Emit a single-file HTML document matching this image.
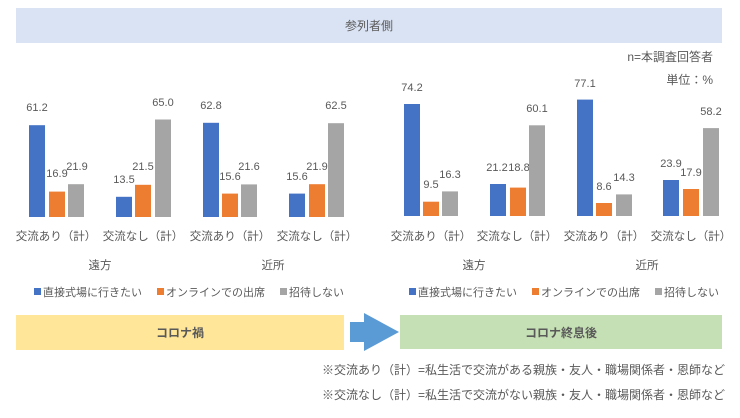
<!DOCTYPE html>
<html><head><meta charset="utf-8"><style>
body{margin:0;background:#fff;}
svg text{font-family:"Liberation Sans","Noto Sans CJK JP",sans-serif;fill:#595959;}
</style></head><body>
<svg width="740" height="413" viewBox="0 0 740 413" xmlns="http://www.w3.org/2000/svg">
<rect x="16" y="8" width="706" height="35" fill="#dae3f3"/>
<text x="369" y="30" font-size="12" text-anchor="middle">参列者側</text>
<text x="713" y="61" font-size="12" text-anchor="end">n=本調査回答者</text>
<text x="713" y="84" font-size="12" text-anchor="end">単位：%</text>
<g font-size="11" text-anchor="middle">
<rect x="29" y="125.2" width="16" height="91.8" fill="#4472c4"/><text x="37" y="111">61.2</text>
<rect x="49" y="191.6" width="16" height="25.4" fill="#ed7d31"/><text x="57" y="177">16.9</text>
<rect x="68" y="184.2" width="16" height="32.8" fill="#a5a5a5"/><text x="77" y="170">21.9</text>
<rect x="116" y="196.8" width="16" height="20.2" fill="#4472c4"/><text x="124" y="183">13.5</text>
<rect x="135" y="184.8" width="16" height="32.2" fill="#ed7d31"/><text x="143" y="170">21.5</text>
<rect x="155" y="119.5" width="16" height="97.5" fill="#a5a5a5"/><text x="163" y="106">65.0</text>
<rect x="203" y="122.8" width="16" height="94.2" fill="#4472c4"/><text x="211" y="109">62.8</text>
<rect x="222" y="193.6" width="16" height="23.4" fill="#ed7d31"/><text x="230" y="180">15.6</text>
<rect x="241" y="184.4" width="16" height="32.6" fill="#a5a5a5"/><text x="249" y="170">21.6</text>
<rect x="289" y="193.6" width="16" height="23.4" fill="#4472c4"/><text x="297" y="180">15.6</text>
<rect x="309" y="184.2" width="16" height="32.8" fill="#ed7d31"/><text x="317" y="170">21.9</text>
<rect x="328" y="123.2" width="16" height="93.8" fill="#a5a5a5"/><text x="336" y="109">62.5</text>
<rect x="404" y="104" width="16" height="112" fill="#4472c4"/><text x="412" y="91">74.2</text>
<rect x="423" y="201.7" width="16" height="14.3" fill="#ed7d31"/><text x="431" y="188">9.5</text>
<rect x="442" y="191.4" width="16" height="24.6" fill="#a5a5a5"/><text x="450" y="178">16.3</text>
<rect x="490" y="184" width="16" height="32" fill="#4472c4"/><text x="497" y="171">21.2</text>
<rect x="510" y="187.6" width="16" height="28.4" fill="#ed7d31"/><text x="519" y="171">18.8</text>
<rect x="529" y="125.3" width="16" height="90.7" fill="#a5a5a5"/><text x="537" y="112">60.1</text>
<rect x="577" y="99.6" width="16" height="116.4" fill="#4472c4"/><text x="585" y="87">77.1</text>
<rect x="596" y="203" width="16" height="13" fill="#ed7d31"/><text x="604" y="190">8.6</text>
<rect x="616" y="194.4" width="16" height="21.6" fill="#a5a5a5"/><text x="624" y="181">14.3</text>
<rect x="663" y="180" width="16" height="36" fill="#4472c4"/><text x="671" y="167">23.9</text>
<rect x="683" y="189" width="16" height="27" fill="#ed7d31"/><text x="691" y="176">17.9</text>
<rect x="703" y="128.1" width="16" height="87.9" fill="#a5a5a5"/><text x="711" y="115">58.2</text>
</g>
<g font-size="11.5" text-anchor="middle">
<text x="56" y="240">交流あり（計）</text><text x="143" y="240">交流なし（計）</text>
<text x="230" y="240">交流あり（計）</text><text x="317" y="240">交流なし（計）</text>
<text x="431" y="240">交流あり（計）</text><text x="517" y="240">交流なし（計）</text>
<text x="604" y="240">交流あり（計）</text><text x="691" y="240">交流なし（計）</text>
<text x="100" y="269">遠方</text><text x="273" y="269">近所</text>
<text x="474" y="269">遠方</text><text x="647" y="269">近所</text>
</g>
<g font-size="11">
<rect x="34" y="288" width="7" height="7" fill="#4472c4"/><text x="43" y="296">直接式場に行きたい</text>
<rect x="157" y="288" width="7" height="7" fill="#ed7d31"/><text x="166" y="296">オンラインでの出席</text>
<rect x="280" y="288" width="7" height="7" fill="#a5a5a5"/><text x="289" y="296">招待しない</text>
<rect x="409" y="288" width="7" height="7" fill="#4472c4"/><text x="418" y="296">直接式場に行きたい</text>
<rect x="532" y="288" width="7" height="7" fill="#ed7d31"/><text x="541" y="296">オンラインでの出席</text>
<rect x="655" y="288" width="7" height="7" fill="#a5a5a5"/><text x="664" y="296">招待しない</text>
</g>
<rect x="16" y="315" width="328" height="35" fill="#ffe699"/>
<text x="180" y="337" font-size="12" font-weight="bold" text-anchor="middle">コロナ禍</text>
<polygon points="350,322 364,322 364,313 399,332 364,351 364,342 350,342" fill="#5b9bd5"/>
<rect x="400" y="315" width="322" height="34" fill="#c5e0b4"/>
<text x="561" y="337" font-size="12" font-weight="bold" text-anchor="middle">コロナ終息後</text>
<g font-size="12" text-anchor="end">
<text x="725" y="374">※交流あり（計）=私生活で交流がある親族・友人・職場関係者・恩師など</text>
<text x="725" y="399">※交流なし（計）=私生活で交流がない親族・友人・職場関係者・恩師など</text>
</g>
</svg>
</body></html>
